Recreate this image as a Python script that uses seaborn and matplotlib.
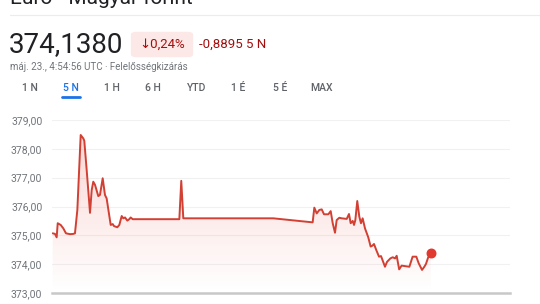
import numpy as np
import pandas as pd
import matplotlib
matplotlib.use("Agg")
import matplotlib.pyplot as plt
import seaborn as sns

# time in days from start of window, rate in HUF
t_days = [0.008, 0.034, 0.053, 0.065, 0.099, 0.129, 0.148, 0.159, 0.205, 0.242, 0.261,
          0.288, 0.326, 0.356, 0.367, 0.394, 0.432, 0.451, 0.469, 0.489, 0.526, 0.545,
          0.576, 0.602, 0.621, 0.667, 0.690, 0.705, 0.742, 0.765, 0.792, 0.810, 0.830,
          0.856, 0.878, 0.894, 0.917, 1.447, 1.469, 1.492, 2.515, 2.962, 2.981, 3.008,
          3.038, 3.065, 3.091, 3.140, 3.167, 3.190, 3.216, 3.235, 3.265, 3.292, 3.349,
          3.375, 3.394, 3.417, 3.432, 3.447, 3.469, 3.492, 3.511, 3.530, 3.557, 3.594,
          3.621, 3.640, 3.659, 3.685, 3.716, 3.739, 3.784, 3.807, 3.845, 3.872, 3.898,
          3.917, 3.945, 3.973, 4.061, 4.098, 4.140, 4.167, 4.205, 4.231, 4.250, 4.273,
          4.307]
rate = [375.07, 375.05, 374.93, 375.42, 375.36, 375.24, 375.13, 375.07, 375.04, 375.05,
        375.07, 375.88, 378.48, 378.36, 378.28, 377.27, 375.78, 376.57, 376.86, 376.75,
        376.36, 376.40, 376.98, 376.40, 376.28, 375.36, 375.39, 375.32, 375.28, 375.36,
        375.67, 375.59, 375.62, 375.51, 375.56, 375.62, 375.56, 375.56, 376.89, 375.59,
        375.59, 375.45, 375.96, 375.76, 375.88, 375.90, 375.73, 375.73, 375.84, 375.42,
        375.09, 375.53, 375.61, 375.59, 375.57, 375.74, 375.42, 375.50, 375.36, 375.53,
        376.19, 375.65, 375.42, 375.59, 375.24, 374.93, 374.61, 374.64, 374.70, 374.49,
        374.26, 374.28, 373.91, 374.08, 374.20, 374.24, 374.20, 374.29, 373.82, 373.95,
        373.91, 374.26, 374.26, 374.03, 373.80, 373.91, 374.01, 374.22, 374.38]
y_ticks = [373, 374, 375, 376, 377, 378, 379]
y_labels = ["373,00", "374,00", "375,00", "376,00", "377,00", "378,00", "379,00"]
x_ticks = [1, 2, 3, 4]
x_labels = ["1:00", "1:00", "1:00", "1:00"]
tabs = ["1 N", "5 N", "1 H", "6 H", "YTD", "1 É", "5 É", "MAX"]

df = pd.DataFrame({"t": t_days, "rate": rate})

sns.set_theme(style="white")
plt.rcParams["font.family"] = ["Roboto", "DejaVu Sans"]

W, H = 540, 304
fig = plt.figure(figsize=(W / 100, H / 100), dpi=100)
fig.patch.set_facecolor("white")

def fx(px):
    return px / W

def fy(py):
    return 1 - py / H

ax = fig.add_axes([fx(52), fy(293), (510 - 52) / W, (293 - 120) / H])
line_c = "#d23f33"

sns.lineplot(data=df, x="t", y="rate", ax=ax, color=line_c, linewidth=1.4, zorder=3)

# gradient fill under the line
xmin, xmax = 0, (510 - 52) / 88
ymin, ymax = 373, 379
verts = [(t_days[0], ymin)] + list(zip(t_days, rate)) + [(t_days[-1], ymin)]
poly = plt.Polygon(verts, closed=True, facecolor="none", edgecolor="none")
ax.add_patch(poly)
grad = np.zeros((100, 2, 4))
grad[..., 0] = 0xe8 / 255
grad[..., 1] = 0x45 / 255
grad[..., 2] = 0x3a / 255
grad[..., 3] = np.linspace(0.0, 0.22, 100)[:, None]
im = ax.imshow(grad, extent=[xmin, xmax, ymin, 378.6], origin="lower",
               aspect="auto", zorder=1)
im.set_clip_path(poly)

ax.scatter([t_days[-1]], [rate[-1]], s=38, color="#e0392f", zorder=4)

ax.set_xlim(xmin, xmax)
ax.set_ylim(ymin, ymax)
ax.set_yticks(y_ticks)
ax.set_yticklabels(y_labels, fontsize=7.5, color="#70757a")
ax.set_xticks(x_ticks)
ax.set_xticklabels(x_labels, fontsize=7.5, color="#70757a")
ax.tick_params(axis="y", length=0, pad=7)
ax.tick_params(axis="x", length=4, width=1, color="#5f6368", pad=7)
for y in y_ticks[1:]:
    ax.axhline(y, color="#f1f1f1", lw=0.8, zorder=0)
for s in ["top", "right", "left"]:
    ax.spines[s].set_visible(False)
ax.spines["bottom"].set_color("#c8c8c8")
ax.spines["bottom"].set_linewidth(1.8)
ax.set_xlabel("")
ax.set_ylabel("")
ax.grid(False)

# header
fig.text(fx(10), fy(-2), "Euro - Magyar forint", fontsize=15, color="#202124", va="center")
fig.add_artist(plt.Line2D([fx(10), fx(540)], [fy(15), fy(15)], color="#ececec", lw=0.8))
fig.text(fx(9), fy(45), "374,1380", fontsize=20, color="#202124", va="center")
pill = matplotlib.patches.FancyBboxPatch((fx(133), fy(56)), (191 - 133) / W, 23 / H,
                                         boxstyle="round,pad=0.004,rounding_size=0.01",
                                         transform=fig.transFigure, facecolor="#fce8e6",
                                         edgecolor="none")
fig.add_artist(pill)
fig.text(fx(139), fy(44), "↓0,24%", fontsize=9.5, color="#a50e0e", va="center",
         family=["Roboto", "DejaVu Sans"])
fig.text(fx(199), fy(44), "-0,8895 5 N", fontsize=9.5, color="#a50e0e", va="center")
fig.text(fx(10), fy(67), "máj. 23., 4:54:56 UTC · Felelősségkizárás", fontsize=7,
         color="#70757a", va="center")
tab_x = [30, 71, 112, 153, 197, 238, 280, 322]
for i, (lbl, x) in enumerate(zip(tabs, tab_x)):
    c = "#1a73e8" if i == 1 else "#5f6368"
    fig.text(fx(x), fy(88), lbl, fontsize=7.5, color=c, va="center", ha="center",
             fontweight="medium")
fig.add_artist(plt.Line2D([fx(62), fx(80)], [fy(97), fy(97)], color="#1a73e8", lw=2))

fig.savefig("out.png", dpi=100, facecolor="white")
